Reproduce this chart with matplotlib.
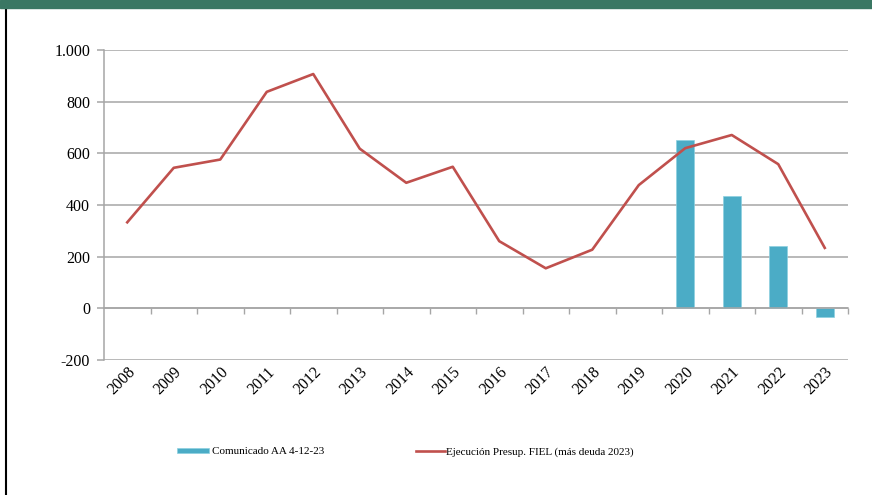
import numpy as np
import matplotlib
matplotlib.use("Agg")
import matplotlib.pyplot as plt
from matplotlib.lines import Line2D
from matplotlib.patches import Rectangle
from matplotlib.ticker import FuncFormatter, FixedLocator

# data
years = [str(y) for y in range(2008, 2024)]
fiel = [333, 544, 576, 838, 907, 618, 486, 548, 260, 155, 227, 477, 620, 671, 558, 234]
comunicado_years = ["2020", "2021", "2022", "2023"]
comunicado = [652, 436, 241, -33]

label_bar = "Comunicado AA 4-12-23"
label_line = "Ejecución Presup. FIEL (más deuda 2023)"

BAR = "#4bacc6"
RED = "#c0504d"
GRID = "#a6a6a6"

plt.rcParams["font.family"] = ["Liberation Serif", "DejaVu Serif"]

W, H = 872, 495
fig = plt.figure(figsize=(W / 100, H / 100), dpi=100)
ax = fig.add_axes([104 / W, 1 - 360 / H, (848 - 104) / W, (360 - 50) / H])

x = np.arange(len(years))
bar_x = [years.index(y) for y in comunicado_years]
bars = ax.bar(bar_x, comunicado, width=0.39, color=BAR, edgecolor="#8dd0e0",
              linewidth=0.5, zorder=2, label=label_bar)
line, = ax.plot(x, fiel, color=RED, lw=1.9, zorder=3, label=label_line)

ax.set_xlim(-0.5, len(years) - 0.5)
ax.set_ylim(-200, 1000)
ax.set_yticks(range(-200, 1001, 200))
ax.yaxis.set_major_formatter(FuncFormatter(lambda v, p: f"{int(v):,}".replace(",", ".")))
ax.grid(axis="y", color=GRID, lw=1.1, zorder=0)
ax.tick_params(axis="y", length=5, width=1.1, color=GRID, labelsize=11.5, pad=5)

for s in ["top", "right"]:
    ax.spines[s].set_visible(False)
ax.spines["left"].set_color(GRID)
ax.spines["left"].set_linewidth(1.1)

# x axis crosses at zero, tick marks between categories
ax.spines["bottom"].set_position(("data", 0))
ax.spines["bottom"].set_color(GRID)
ax.spines["bottom"].set_linewidth(1.1)
ax.xaxis.set_major_locator(FixedLocator([]))
ax.xaxis.set_minor_locator(FixedLocator(np.arange(0.5, len(years), 1.0)))
ax.tick_params(axis="x", which="minor", direction="out", length=4, width=1.0, color=GRID)

# category labels below the -200 line
sec = ax.secondary_xaxis(0)
sec.set_xticks(x)
sec.set_xticklabels(years, rotation=45, ha="right", rotation_mode="anchor")
sec.tick_params(length=0, labelsize=11.5, pad=3)
sec.spines["bottom"].set_visible(False)

# legends
fig.legend(handles=[bars], loc="center left", bbox_to_anchor=(177 / W, 1 - 452 / H),
           frameon=False, fontsize=8, handlelength=2.9, handleheight=0.4,
           handletextpad=0.25, borderpad=0, borderaxespad=0)
fig.legend(handles=[line], loc="center left", bbox_to_anchor=(416 / W, 1 - 452 / H),
           frameon=False, fontsize=8, handlelength=2.6,
           handletextpad=0.1, borderpad=0, borderaxespad=0)

# page decoration: green band on top and black border on the left
fig.add_artist(Rectangle((0, 1 - 7.5 / H), 1, 7.5 / H, transform=fig.transFigure,
                         color="#3a7763", zorder=5))
fig.add_artist(Line2D([6 / W, 6 / W], [0, 1 - 7.5 / H], transform=fig.transFigure,
                      color="black", lw=1.5))

fig.savefig("out.png", dpi=100)
